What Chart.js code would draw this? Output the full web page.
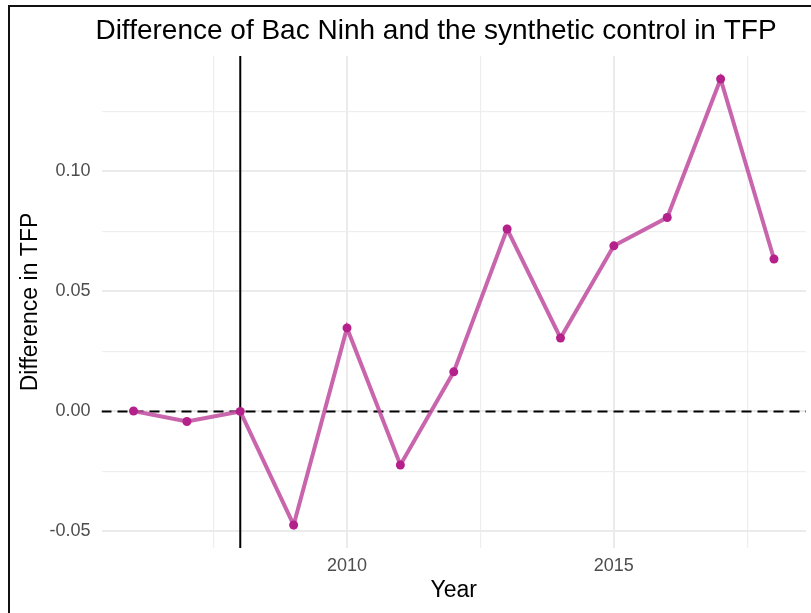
<!DOCTYPE html>
<html>
<head>
<meta charset="utf-8">
<script src="https://cdn.jsdelivr.net/npm/chart.js@4/dist/chart.umd.min.js"></script>
<style>
  html, body { margin: 0; padding: 0; background: #fff; }
  #wrap { position: relative; width: 811px; height: 613px; overflow: hidden; }
  #frame { position: absolute; left: 8px; top: 5px; width: 840px; height: 640px;
           border-left: 2px solid #111; border-top: 2px solid #111; }
  #tfp-chart { position: absolute; left: 0; top: 0; }
</style>
</head>
<body>
<div id="wrap">
  <div id="frame"></div>
  <canvas id="tfp-chart" width="811" height="613"></canvas>
</div>
<script>
// Gap in TFP between Bac Ninh and its synthetic control, by year
const years = [2006, 2007, 2008, 2009, 2010, 2011, 2012, 2013, 2014, 2015, 2016, 2017, 2018];
const tfpGap = [0.0002, -0.0042, 0.0000, -0.0473, 0.0348, -0.0223, 0.0165, 0.0760, 0.0306, 0.0690, 0.0808, 0.1385, 0.0635];
const treatmentYear = 2008;

const xRange = [2005.4, 2018.6];
const yRange = [-0.0569, 0.1481];
const xTicks = [2007.5, 2010, 2012.5, 2015, 2017.5];
const xTickLabels = ['', '2010', '', '2015', ''];
const yTicks = [-0.05, -0.025, 0, 0.025, 0.05, 0.075, 0.1, 0.125];
const yTickLabels = ['-0.05', '', '0.00', '', '0.05', '', '0.10', ''];

const plotTitle = 'Difference of Bac Ninh and the synthetic control in TFP';
const FONT = '"Liberation Sans", Arial, Helvetica, sans-serif';

const isMajor = (ticks, labels, v) => labels[ticks.indexOf(v)] !== '';

// title drawn by hand so it can sit where we want it
const titlePlugin = {
    id: 'plotTitle',
    afterDraw(chart) {
        const ctx = chart.ctx;
        ctx.save();
        ctx.font = '28px ' + FONT;
        ctx.fillStyle = '#000';
        ctx.textAlign = 'center';
        ctx.textBaseline = 'middle';
        ctx.fillText(plotTitle, 436, 31);
        ctx.restore();
    }
};

const ctx = document.getElementById('tfp-chart').getContext('2d');
new Chart(ctx, {
    type: 'line',
    data: {
        datasets: [
            {
                data: years.map((yr, i) => ({ x: yr, y: tfpGap[i] })),
                borderColor: 'rgba(194, 80, 162, 0.88)',
                borderWidth: 4,
                pointRadius: 4.5,
                pointBackgroundColor: '#b5218a',
                pointBorderWidth: 0,
                tension: 0,
                order: 1
            },
            {
                // treatment year marker
                data: [{ x: treatmentYear, y: yRange[0] }, { x: treatmentYear, y: yRange[1] }],
                borderColor: '#000',
                borderWidth: 2,
                pointRadius: 0,
                order: 2
            },
            {
                // zero reference
                data: [{ x: xRange[0], y: 0 }, { x: xRange[1], y: 0 }],
                borderColor: '#000',
                borderWidth: 2,
                borderDash: [10, 6],
                pointRadius: 0,
                order: 3
            }
        ]
    },
    options: {
        responsive: false,
        animation: false,
        layout: { padding: { top: 56, right: 5, left: 0, bottom: 0 } },
        plugins: {
            legend: { display: false },
            tooltip: { enabled: false }
        },
        scales: {
            x: {
                type: 'linear',
                min: xRange[0],
                max: xRange[1],
                afterBuildTicks: s => { s.ticks = xTicks.map(v => ({ value: v })); },
                afterFit: s => { s.height = 65; },
                border: { display: false },
                grid: {
                    drawTicks: false,
                    color: c => isMajor(xTicks, xTickLabels, c.tick.value) ? '#ebebeb' : '#eeeeee',
                    lineWidth: c => isMajor(xTicks, xTickLabels, c.tick.value) ? 2 : 1.2
                },
                ticks: {
                    padding: 7,
                    maxRotation: 0,
                    autoSkip: false,
                    color: '#4d4d4d',
                    font: { family: FONT, size: 18 },
                    callback: (v, i) => xTickLabels[i]
                },
                title: {
                    display: true,
                    text: 'Year',
                    color: '#000',
                    font: { family: FONT, size: 23 },
                    padding: { top: 0, bottom: 9 }
                }
            },
            y: {
                type: 'linear',
                min: yRange[0],
                max: yRange[1],
                afterBuildTicks: s => { s.ticks = yTicks.map(v => ({ value: v })); },
                afterFit: s => { s.width = 101.5; },
                border: { display: false },
                grid: {
                    drawTicks: false,
                    color: c => isMajor(yTicks, yTickLabels, c.tick.value) ? '#ebebeb' : '#eeeeee',
                    lineWidth: c => isMajor(yTicks, yTickLabels, c.tick.value) ? 2 : 1.2
                },
                ticks: {
                    padding: 11,
                    autoSkip: false,
                    color: '#4d4d4d',
                    font: { family: FONT, size: 18 },
                    callback: (v, i) => yTickLabels[i]
                },
                title: {
                    display: true,
                    text: 'Difference in TFP',
                    color: '#000',
                    font: { family: FONT, size: 23 },
                    padding: { top: 17, bottom: 0 }
                }
            }
        }
    },
    plugins: [titlePlugin]
});
</script>
</body>
</html>
